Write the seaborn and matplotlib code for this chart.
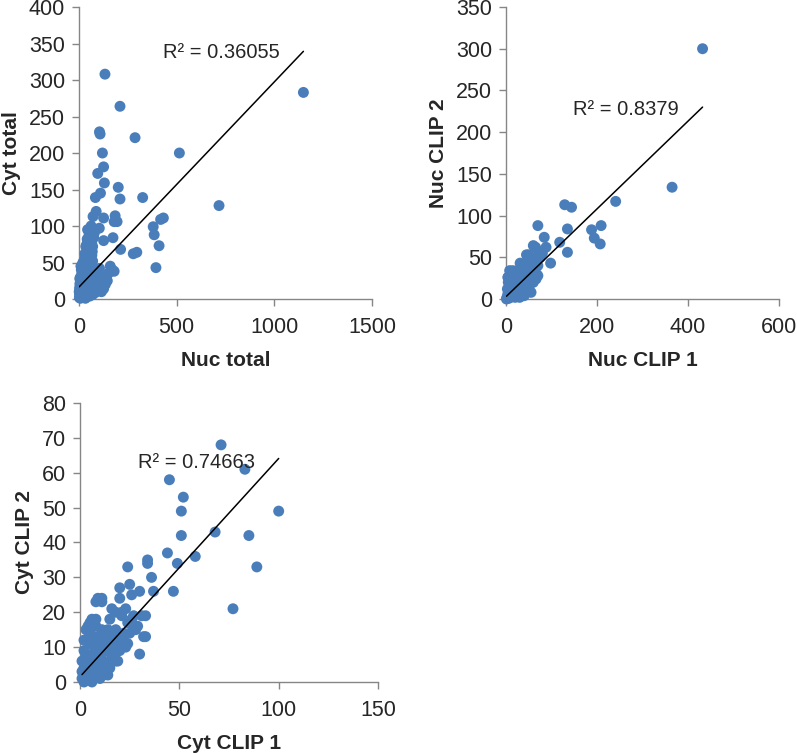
import numpy as np
import matplotlib
matplotlib.use("Agg")
import matplotlib.pyplot as plt
import seaborn as sns

# Panel 1: Nuc total vs Cyt total
nuc_total = [133, 1149, 210, 105, 108, 287, 514, 120, 126, 96, 130, 201, 210, 110, 84, 326, 717,
             88, 72, 126, 185, 195, 180, 104, 72, 380, 385, 410, 432, 418, 394, 278, 296, 213,
             126, 174, 160, 170, 180, 126,
             45, 50, 55, 60, 65, 70, 48, 58, 62, 40, 52, 75, 68,
             10, 20, 30, 35, 25, 45, 55, 15, 40, 65, 8, 50, 30, 70,
             2, 5, 8, 10, 12, 15, 18, 20, 22, 25, 28, 30, 32, 35, 38, 40, 42, 45, 50, 55, 58,
             60, 65, 70, 75, 80, 85, 90, 95, 100, 105, 110, 115, 120, 130, 140, 3, 6, 4, 1,
             12, 16, 150, 145, 135, 3, 7, 9, 14, 18, 24, 28, 33, 6, 11,
             35, 42, 55, 62, 78, 38, 46, 66, 28, 20, 12, 5, 18, 26, 36, 48, 58, 72, 85, 95,
             105, 62, 44]
cyt_total = [308, 283, 264, 229, 226, 221, 200, 200, 181, 172, 159, 153, 137, 145, 139, 139, 128,
             120, 113, 111, 114, 106, 106, 97, 95, 99, 88, 73, 111, 109, 43, 62, 64, 68,
             80, 84, 45, 40, 38, 14,
             80, 78, 75, 82, 78, 72, 70, 68, 85, 75, 88, 84, 65,
             45, 50, 55, 42, 38, 48, 52, 35, 32, 45, 30, 60, 62, 52,
             2, 5, 3, 8, 12, 6, 15, 10, 20, 4, 14, 8, 25, 18, 5, 12, 22, 8, 16, 4, 24,
             10, 18, 6, 14, 22, 9, 17, 26, 12, 20, 28, 10, 24, 30, 28, 15, 22, 28, 10,
             30, 26, 35, 25, 20, 7, 1, 16, 3, 8, 2, 11, 1, 12, 19,
             72, 82, 92, 70, 90, 60, 58, 60, 45, 35, 40, 20, 28, 32, 26, 38, 35, 38, 40, 35,
             42, 100, 95]

# Panel 2: Nuc CLIP 1 vs Nuc CLIP 2
nuc_clip1 = [432, 365, 241, 129, 144, 135, 70, 84, 88, 188, 209, 194, 207, 118, 135, 98, 65, 60,
             50, 45, 31, 64, 70, 67, 38, 4, 8, 16, 30, 44,
             2, 4, 6, 8, 10, 12, 14, 16, 18, 20, 22, 24, 26, 28, 30, 32, 34, 36, 38, 40, 42,
             45, 48, 50, 52, 55, 58, 60, 62, 66, 5, 8, 3, 10, 15, 25, 35, 45, 30, 40, 55, 70,
             75, 80, 1, 3, 7, 12, 20, 25, 35,
             5, 10, 15, 20, 25, 35, 45, 50, 60, 40]
nuc_clip2 = [300, 134, 117, 113, 110, 84, 88, 74, 62, 83, 88, 73, 66, 68, 56, 43, 62, 64,
             53, 53, 43, 50, 40, 30, 32, 26, 34, 24, 15, 20,
             2, 6, 3, 10, 5, 14, 8, 20, 12, 4, 16, 24, 10, 18, 28, 6, 14, 22, 32, 10, 18,
             26, 36, 14, 22, 30, 42, 20, 28, 24, 26, 18, 12, 30, 34, 34, 40, 44, 2, 4, 8, 28,
             50, 55, 0, 1, 1, 3, 2, 6, 8,
             20, 22, 28, 30, 32, 20, 35, 40, 48, 26]

# Panel 3: Cyt CLIP 1 vs Cyt CLIP 2
cyt_clip1 = [71, 83, 45, 52, 51, 100, 51, 68, 85, 89, 77, 58, 49, 44, 47, 34, 34, 36, 37, 24,
             25, 26, 30, 20, 20, 9, 11, 29, 28, 27, 33, 33, 30, 23, 22, 18, 27, 21, 16, 6, 3,
             8, 11, 15, 18, 21, 23, 26, 31, 25, 32, 20, 24, 4, 5, 8,
             1, 2, 3, 4, 5, 6, 7, 8, 9, 10, 11, 12, 13, 14, 15, 16, 17, 18, 19, 20,
             1, 2, 3, 4, 5, 6, 7, 8, 9, 10, 11, 12, 13, 14, 15, 16, 2, 4, 6, 8, 10, 12, 14,
             3, 5, 7, 9, 11, 13, 1, 2, 5, 8, 12, 15, 18, 22, 24]
cyt_clip2 = [68, 61, 58, 53, 49, 49, 42, 43, 42, 33, 21, 36, 34, 37, 26, 35, 34, 30, 26, 33,
             28, 25, 26, 27, 24, 24, 23, 16, 15, 15, 19, 13, 8, 10, 13, 15, 19, 20, 21, 18, 15,
             23, 24, 18, 20, 19, 21, 18, 19, 14, 13, 12, 11, 16, 17, 18,
             1, 4, 2, 6, 3, 8, 5, 10, 4, 7, 12, 6, 9, 11, 5, 13, 8, 10, 6, 9,
             6, 9, 12, 3, 14, 7, 11, 2, 13, 8, 3, 14, 4, 15, 12, 7, 0, 1, 0, 2, 1, 3, 2,
             8, 11, 13, 9, 15, 10, 3, 12, 5, 16, 2, 4, 6, 14, 17]

# trendlines (slope, intercept) and R² labels
trend_1 = (0.281, 16.4)
trend_2 = (0.526, 2.8)
trend_3 = (0.626, 1.5)
r2_labels = ["R² = 0.36055", "R² = 0.8379", "R² = 0.74663"]

sns.set_style("ticks")
plt.rcParams["font.family"] = ["Liberation Sans", "DejaVu Sans"]

fig = plt.figure(figsize=(7.97, 7.53), dpi=100)
ax1 = fig.add_axes([0.0991, 0.6029, 0.3676, 0.3878])
ax2 = fig.add_axes([0.6349, 0.6029, 0.3425, 0.3878])
ax3 = fig.add_axes([0.1004, 0.0943, 0.3739, 0.3705])

point_color = "#4A7EBB"
gray = "#868686"

panels = [
    (ax1, nuc_total, cyt_total, trend_1, r2_labels[0], "Nuc total", "Cyt total",
     (0, 1500), [0, 500, 1000, 1500], (0, 400), list(range(0, 401, 50)), (430, 338)),
    (ax2, nuc_clip1, nuc_clip2, trend_2, r2_labels[1], "Nuc CLIP 1", "Nuc CLIP 2",
     (0, 600), [0, 200, 400, 600], (0, 350), list(range(0, 351, 50)), (147, 227)),
    (ax3, cyt_clip1, cyt_clip2, trend_3, r2_labels[2], "Cyt CLIP 1", "Cyt CLIP 2",
     (0, 150), [0, 50, 100, 150], (0, 80), list(range(0, 81, 10)), (29, 63)),
]

for ax, xs, ys, trend, r2, xlab, ylab, xlim, xticks, ylim, yticks, r2pos in panels:
    sns.scatterplot(x=xs, y=ys, ax=ax, color=point_color, s=62, edgecolor="none",
                    linewidth=0, clip_on=False, zorder=3)
    xs_arr = np.array(xs, dtype=float)
    line_x = np.array([xs_arr.min(), xs_arr.max()])
    ax.plot(line_x, trend[0] * line_x + trend[1], color="black", lw=1.1, zorder=4)
    ax.text(r2pos[0], r2pos[1], r2, fontsize=14.5, va="center", ha="left", zorder=5)
    ax.set_xlim(*xlim)
    ax.set_ylim(*ylim)
    ax.set_xticks(xticks)
    ax.set_yticks(yticks)
    ax.set_xlabel(xlab, fontsize=15, fontweight="bold", labelpad=9)
    ax.set_ylabel(ylab, fontsize=15, fontweight="bold", labelpad=6)
    ax.tick_params(axis="both", labelsize=15.5, length=5, width=1, color=gray,
                   direction="out", pad=5)
    ax.tick_params(axis="x", pad=8)
    sns.despine(ax=ax)
    for side in ["left", "bottom"]:
        ax.spines[side].set_color(gray)
        ax.spines[side].set_linewidth(1)

fig.savefig("out.png", dpi=100)
